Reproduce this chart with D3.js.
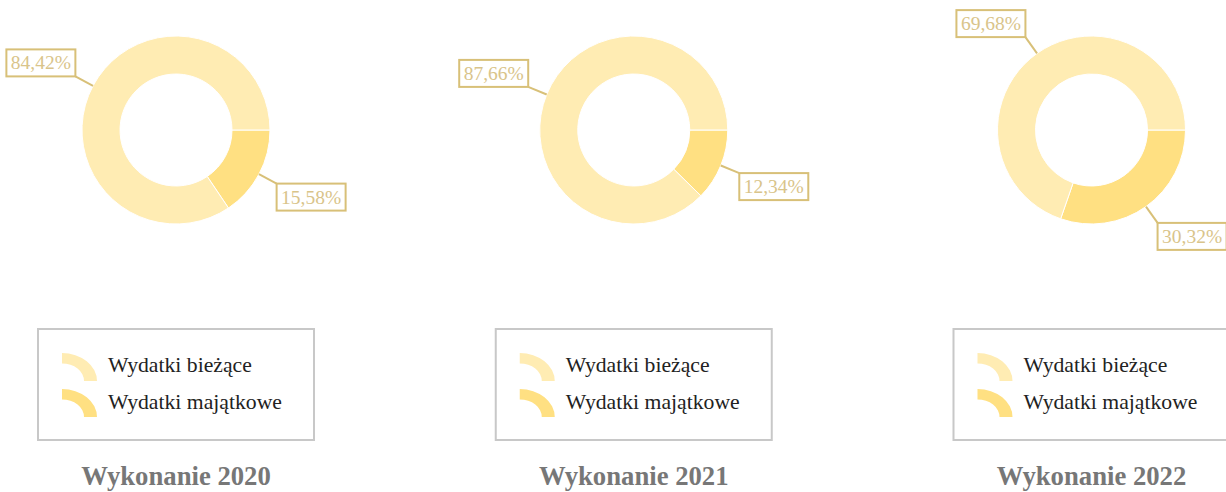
<!DOCTYPE html>
<html>
<head>
<meta charset="utf-8">
<script src="https://cdn.jsdelivr.net/npm/d3@7"></script>
<style>
  body { margin: 0; background: #fff; }
  text { font-family: "Liberation Serif", "Times New Roman", serif; }
</style>
</head>
<body>
<div id="pie_chart"></div>
<script>
// data
const years = ["2020", "2021", "2022"];
const categories = ["Wydatki bieżące", "Wydatki majątkowe"];
const biezace = [84.42, 87.66, 69.68];
const majatkowe = [15.58, 12.34, 30.32];

const width = 1226, height = 492;
const outerR = 94, innerR = 56;

const svg = d3.select("#pie_chart")
    .append("svg")
    .attr("width", width)
    .attr("height", height);

const color = d3.scaleOrdinal()
    .domain(categories)
    .range(["#ffecb3", "#ffe082"]);

// panel centres
const xPos = d3.scalePoint()
    .domain(years)
    .range([176, 1091.5]);

const arcGenerator = d3.arc()
    .innerRadius(innerR)
    .outerRadius(outerR);

// pie starts at 3 o'clock, majątkowe drawn first (clockwise)
const pie = d3.pie()
    .value(d => d.value)
    .sort(null)
    .startAngle(Math.PI / 2)
    .endAngle(Math.PI / 2 + 2 * Math.PI);

const fmt = v => v.toFixed(2).replace(".", ",") + "%";

years.forEach(function(year, i) {
    const cx = xPos(year), cy = 130;
    const data = [
        {key: categories[1], value: majatkowe[i]},
        {key: categories[0], value: biezace[i]}
    ];
    const g = svg.append("g")
        .attr("transform", `translate(${cx}, ${cy})`);

    g.selectAll("path")
        .data(pie(data))
        .join("path")
        .attr("d", arcGenerator)
        .attr("fill", d => color(d.data.key))
        .attr("stroke", "white")
        .style("stroke-width", "1px");

    // labels with leader lines
    const lab = g.selectAll("g.lab")
        .data(pie(data))
        .join("g")
        .attr("class", "lab");

    lab.each(function(d) {
        const a = (d.startAngle + d.endAngle) / 2;
        const x1 = outerR * Math.sin(a), y1 = -outerR * Math.cos(a);
        const x2 = (outerR + 20) * Math.sin(a), y2 = -(outerR + 20) * Math.cos(a);
        const bw = 69, bh = 27;
        const bx = x2 < 0 ? x2 - bw : x2;
        const by = y2 < 0 ? y2 - bh : y2;
        const el = d3.select(this);
        el.append("line")
            .attr("x1", x1).attr("y1", y1)
            .attr("x2", x2).attr("y2", y2)
            .attr("stroke", "#d8c078")
            .attr("stroke-width", 2);
        el.append("rect")
            .attr("x", bx).attr("y", by)
            .attr("width", bw).attr("height", bh)
            .attr("fill", "white")
            .attr("stroke", "#d8c078")
            .attr("stroke-width", 2);
        el.append("text")
            .attr("x", bx + bw / 2)
            .attr("y", by + 20)
            .attr("text-anchor", "middle")
            .attr("fill", "#d9c48a")
            .style("font-size", "19.5px")
            .text(fmt(d.data.value));
    });

    // legend
    const lg = svg.append("g")
        .attr("transform", `translate(${cx - 138}, 329)`);
    lg.append("rect")
        .attr("width", 276)
        .attr("height", 111)
        .attr("fill", "none")
        .attr("stroke", "#c8c8c8")
        .attr("stroke-width", 2);

    const symArc = d3.arc()
        .innerRadius(22)
        .outerRadius(35)
        .startAngle(0)
        .endAngle(Math.PI / 2);

    categories.forEach(function(c, j) {
        const yy = 52 + j * 36;
        lg.append("path")
            .attr("d", symArc())
            .attr("transform", `translate(24, ${yy}) scale(1, 0.8)`)
            .attr("fill", color(c));
        lg.append("text")
            .attr("x", 70)
            .attr("y", 43 + j * 37)
            .attr("fill", "#222")
            .style("font-size", "21.7px")
            .text(c);
    });

    // title
    svg.append("text")
        .attr("x", cx)
        .attr("y", 485)
        .attr("text-anchor", "middle")
        .attr("fill", "#777")
        .style("font-size", "26.7px")
        .style("font-weight", "bold")
        .text("Wykonanie " + year);
});
</script>
</body>
</html>
